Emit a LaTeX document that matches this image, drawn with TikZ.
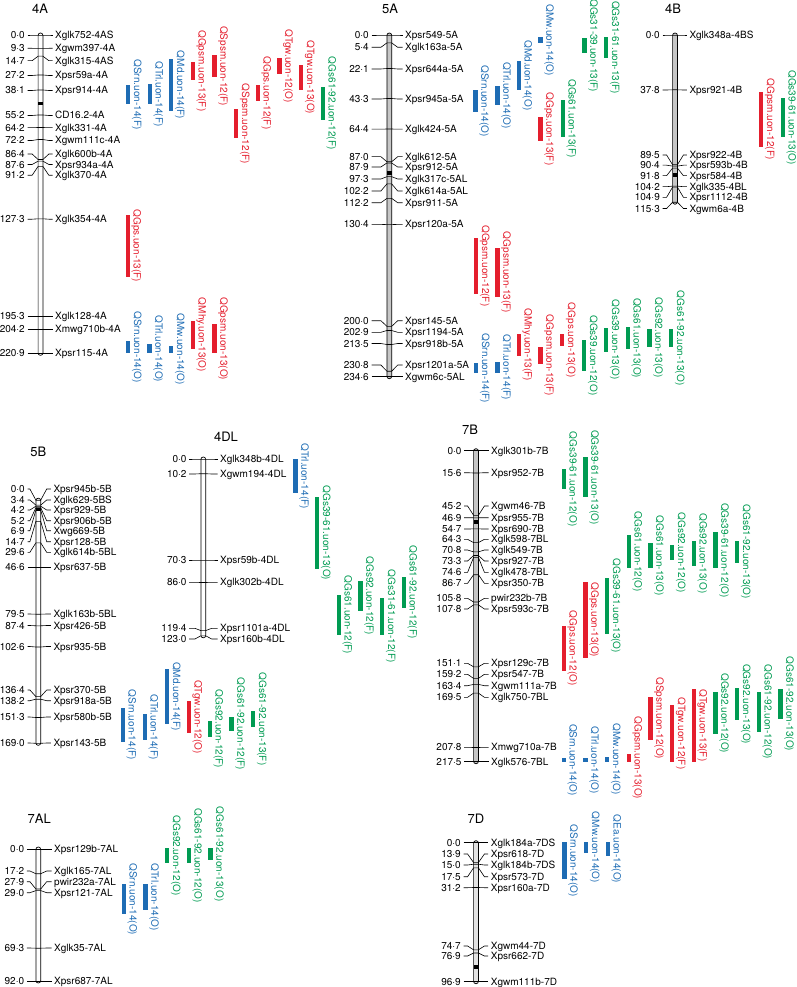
\documentclass[tikz,border=0pt]{standalone}
\usepackage{fontspec}
\setmainfont{TeX Gyre Heros}
\definecolor{qblue}{RGB}{30,108,180}
\definecolor{qred}{RGB}{228,30,45}
\definecolor{qgreen}{RGB}{0,155,82}
\tikzset{
  numlab/.style={anchor=east,inner xsep=2.5pt,inner ysep=1pt,text height=7pt,text depth=0pt,font=\fontsize{10}{12}\selectfont},
  mklab/.style={anchor=west,inner xsep=2.5pt,inner ysep=1pt,text height=7pt,text depth=0pt,font=\fontsize{10}{12}\selectfont},
  tick/.style={line width=0.6pt},
  chr/.style={draw=black,line width=0.7pt,rounded corners=2.3pt},
  qlab/.style={rotate=-90,anchor=south,inner sep=1pt,text height=7pt,text depth=2pt,font=\fontsize{10}{12}\selectfont},
  ttl/.style={font=\fontsize{13}{15}\selectfont,inner sep=0pt},
  cen/.style={fill=black}
}
\newcommand\hw{2.4}
\newcommand\dg{6}
\def\chrX{0}\def\numX{0}\def\labX{0}
\newcommand\setc[3]{\def\chrX{#1}\def\numX{#2}\def\labX{#3}}
\newcommand\mk[5]{%
  \node[numlab] (#1n) at (\numX,#3) {#4};
  \node[mklab] (#1m) at (\labX,#3) {#5};
  \draw[tick] (#1n.east) -- ({\chrX-\hw-\dg},#3) -- ({\chrX-\hw},#2) -- ({\chrX+\hw},#2) -- ({\chrX+\hw+\dg},#3) -- (#1m.west);
}
\newcommand\chrom[4]{\path[chr,fill=#4] ({#1-\hw},{#2-2}) rectangle ({#1+\hw},{#3+2});}
\newcommand\cent[2]{\fill[cen] ({\chrX-\hw},#1) rectangle ({\chrX+\hw},#2);}
\newcommand\Q[6]{%
  \fill[#2] (#3,#4) rectangle ({#3+4.3},#5);
  \node[qlab,text=#2] (#1) at ({#3+4.8},{(#4+#5)/2}) {#6};
}
\begin{document}
\begin{tikzpicture}[x=1pt,y=-1pt]
\useasboundingbox (0,0) rectangle (796,987);
% ---------------- titles
\node[ttl] (t4A) at (40,9) {4A};
\node[ttl] (t5A) at (390,9) {5A};
\node[ttl] (t4B) at (673,9) {4B};
\node[ttl] (t5B) at (38.3,451.7) {5B};
\node[ttl] (t4DL) at (226,437) {4DL};
\node[ttl] (t7B) at (470,430) {7B};
\node[ttl] (t7AL) at (39.3,818.3) {7AL};
\node[ttl] (t7D) at (476,818.3) {7D};
% ---------------- chromosome 4A
\chrom{40.5}{35}{353.3}{white}
\setc{40.5}{27.5}{52.5}
\mk{a1}{35}{35}{0·0}{Xglk752-4AS}
\mk{a2}{48.4}{48.3}{9·3}{Xgwm397-4A}
\mk{a3}{56.2}{60.7}{14·7}{Xglk315-4AS}
\mk{a4}{75}{75.5}{27·2}{Xpsr59a-4A}
\mk{a5}{90}{90.5}{38·1}{Xpsr914-4A}
\mk{a6}{115}{115.5}{55·2}{CD16.2-4A}
\mk{a7}{127.5}{127.7}{64·2}{Xglk331-4A}
\mk{a8}{139.5}{140.5}{72·2}{Xgwm111c-4A}
\mk{a9}{159.5}{154}{86·4}{Xglk600b-4A}
\mk{a10}{161.2}{164.5}{87·6}{Xpsr934a-4A}
\mk{a11}{166.4}{175.3}{91·2}{Xglk370-4A}
\mk{a12}{218.8}{219.2}{127·3}{Xglk354-4A}
\mk{a13}{316.2}{316.2}{195·3}{Xglk128-4A}
\mk{a14}{329.3}{329.3}{204·2}{Xmwg710b-4A}
\mk{a15}{353.3}{353.3}{220·9}{Xpsr115-4A}
\cent{102.5}{105.5}
\Q{qa1}{qblue}{126}{85}{104}{QSrn.uon-14(F)}
\Q{qa2}{qblue}{147.5}{84}{104}{QTrl.uon-14(F)}
\Q{qa3}{qblue}{169}{59.3}{111}{QMd.uon-14(F)}
\Q{qa4}{qred}{190.7}{61.7}{80}{QGpsm.uon-13(F)}
\Q{qa5}{qred}{212.3}{55}{77.3}{QSpsm.uon-12(F)}
\Q{qa6}{qred}{234}{109.3}{138.3}{QSpsm.uon-12(F)}
\Q{qa7}{qred}{255.7}{85}{101}{QGps.uon-12(F)}
\Q{qa8}{qred}{277.3}{58.3}{74}{QTgw.uon-12(O)}
\Q{qa9}{qred}{299}{65}{90}{QTgw.uon-13(O)}
\Q{qa10}{qgreen}{320.7}{86.7}{120}{QGs61-92.uon-12(F)}
\Q{qa11}{qred}{125.7}{215}{276.7}{QGps.uon-13(F)}
\Q{qa12}{qblue}{126}{341}{353.3}{QSrn.uon-14(O)}
\Q{qa13}{qblue}{147.3}{344.3}{353.3}{QTrl.uon-14(O)}
\Q{qa14}{qblue}{169}{346}{352.7}{QMw.uon-14(O)}
\Q{qa15}{qred}{190.7}{320.7}{349.3}{QMhy.uon-13(O)}
\Q{qa16}{qred}{212.3}{324.3}{353.3}{QGpsm.uon-13(O)}
% ---------------- chromosome 5A
\chrom{389.3}{35}{376.7}{gray!45}
\setc{389.3}{371.5}{402.5}
\mk{b1}{35}{35}{0·0}{Xpsr549-5A}
\mk{b2}{42.9}{47.3}{5·4}{Xglk163a-5A}
\mk{b3}{68.5}{69}{22·1}{Xpsr644a-5A}
\mk{b4}{98.5}{99}{43·3}{Xpsr945a-5A}
\mk{b5}{129}{129.2}{64·4}{Xglk424-5A}
\mk{b6}{161.7}{156.7}{87·0}{Xglk612-5A}
\mk{b7}{163}{167}{87·9}{Xpsr912-5A}
\mk{b8}{176.7}{179}{97·3}{Xglk317c-5AL}
\mk{b9}{183.9}{191}{102·2}{Xglk614a-5AL}
\mk{b10}{198.4}{202.7}{112·2}{Xpsr911-5A}
\mk{b11}{224.6}{224.4}{130·4}{Xpsr120a-5A}
\mk{b12}{326.3}{320.7}{200·0}{Xpsr145-5A}
\mk{b13}{330.5}{332.3}{202·9}{Xpsr1194-5A}
\mk{b14}{344.5}{343.5}{213·5}{Xpsr918b-5A}
\mk{b15}{371.2}{365}{230·8}{Xpsr1201a-5A}
\mk{b16}{376.7}{376.7}{234·6}{Xgwm6c-5AL}
\cent{171.2}{174.6}
\Q{qb1}{qblue}{473.3}{90}{112.3}{QSrn.uon-14(O)}
\Q{qb2}{qblue}{495.3}{86}{105}{QTrl.uon-14(O)}
\Q{qb3}{qblue}{516.7}{60.7}{90}{QMd.uon-14(O)}
\Q{qb4}{qblue}{538.3}{36.7}{43.3}{QMw.uon-14(O)}
\Q{qb5}{qred}{538.3}{117.3}{140.7}{QGps.uon-13(F)}
\Q{qb6}{qgreen}{560.7}{100}{137}{QGs61.uon-13(F)}
\Q{qb7}{qgreen}{582.3}{38.3}{53.3}{QGs31-39.uon-13(F)}
\Q{qb8}{qgreen}{604}{36.7}{58.3}{QGs31-61.uon-13(F)}
\Q{qb9}{qred}{474}{237.7}{294}{QGpsm.uon-12(F)}
\Q{qb10}{qred}{495.3}{247.7}{297.3}{QGpsm.uon-13(F)}
\Q{qb11}{qblue}{474}{363.3}{373.3}{QSrn.uon-14(F)}
\Q{qb12}{qblue}{495.3}{361.7}{372.7}{QTrl.uon-14(F)}
\Q{qb13}{qred}{516.7}{334.3}{355.7}{QMhy.uon-13(F)}
\Q{qb14}{qred}{538.3}{346.7}{364.3}{QGpsm.uon-13(F)}
\Q{qb15}{qred}{560}{334.3}{346}{QGps.uon-13(O)}
\Q{qb16}{qgreen}{582}{340}{370.7}{QGs39.uon-12(O)}
\Q{qb17}{qgreen}{604}{327.7}{351.7}{QGs39.uon-13(O)}
\Q{qb18}{qgreen}{625.7}{327.3}{349}{QGs61.uon-13(O)}
\Q{qb19}{qgreen}{647.3}{329}{346.7}{QGs92.uon-13(O)}
\Q{qb20}{qgreen}{669}{329}{347.3}{QGs61-92.uon-13(O)}
% ---------------- chromosome 4B
\chrom{675}{35}{202.2}{gray!45}
\setc{675}{662.5}{686.8}
\mk{c1}{35}{35}{0·0}{Xglk348a-4BS}
\mk{c2}{89.8}{90}{37·8}{Xpsr921-4B}
\mk{c3}{164.8}{155}{89·5}{Xpsr922-4B}
\mk{c4}{166.1}{165.2}{90·4}{Xpsr593b-4B}
\mk{c5}{168.1}{175.7}{91·8}{Xpsr584-4B}
\mk{c6}{186.1}{186.7}{104·2}{Xglk335-4BL}
\mk{c7}{187.1}{197.3}{104·9}{Xpsr1112-4B}
\mk{c8}{202.2}{208.5}{115·3}{Xgwm6a-4B}
\cent{173.5}{177}
\Q{qc1}{qred}{759}{91.7}{146.7}{QGpsm.uon-12(F)}
\Q{qc2}{qgreen}{780.7}{98.3}{136.7}{QGs39-61.uon-13(O)}
% ---------------- chromosome 5B
\chrom{38.3}{500.2}{743.3}{white}
\setc{38.3}{27.5}{50.8}
\mk{d1}{500.2}{489}{0·0}{Xpsr945b-5B}
\mk{d2}{505.1}{500}{3·4}{Xglk629-5BS}
\mk{d3}{506.2}{510}{4·2}{Xpsr929-5B}
\mk{d4}{507.7}{520.7}{5·2}{Xpsr906b-5B}
\mk{d5}{510.1}{530.7}{6·9}{Xwg669-5B}
\mk{d6}{521.4}{541.7}{14·7}{Xpsr128-5B}
\mk{d7}{542.8}{552.3}{29·6}{Xglk614b-5BL}
\mk{d8}{567.3}{567.3}{46·6}{Xpsr637-5B}
\mk{d9}{614.2}{614}{79·5}{Xglk163b-5BL}
\mk{d10}{625.8}{625.5}{87·4}{Xpsr426-5B}
\mk{d11}{647}{646.5}{102·6}{Xpsr935-5B}
\mk{d12}{696.6}{690}{136·4}{Xpsr370-5B}
\mk{d13}{699.2}{700.7}{138·2}{Xpsr918a-5B}
\mk{d14}{717.5}{717}{151·3}{Xpsr580b-5B}
\mk{d15}{743.3}{743}{169·0}{Xpsr143-5B}
\cent{507.5}{511}
\Q{qd1}{qblue}{120.7}{707.7}{742}{QSrn.uon-14(F)}
\Q{qd2}{qblue}{142.7}{714}{740}{QTrl.uon-14(F)}
\Q{qd3}{qblue}{165}{668.7}{724}{QMd.uon-14(F)}
\Q{qd4}{qred}{186.7}{700.7}{733}{QTgw.uon-12(O)}
\Q{qd5}{qgreen}{207.7}{721}{737}{QGs92.uon-12(F)}
\Q{qd6}{qgreen}{229.3}{716.7}{731}{QGs61-92.uon-12(F)}
\Q{qd7}{qgreen}{251}{711}{727}{QGs61-92.uon-13(F)}
% ---------------- chromosome 4DL
\chrom{203.3}{459}{635.8}{white}
\setc{203.3}{189.2}{217.5}
\mk{e1}{459}{459}{0·0}{Xglk348b-4DL}
\mk{e2}{473.7}{474}{10·2}{Xgwm194-4DL}
\mk{e3}{560}{560}{70·3}{Xpsr59b-4DL}
\mk{e4}{582.5}{582.3}{86·0}{Xglk302b-4DL}
\mk{e5}{630.6}{628.3}{119·4}{Xpsr1101a-4DL}
\mk{e6}{635.8}{639}{123·0}{Xpsr160b-4DL}
\Q{qe1}{qblue}{293.3}{459}{493.3}{QTrl.uon-14(F)}
\Q{qe2}{qgreen}{315}{496.7}{569.3}{QGs39-61.uon-13(O)}
\Q{qe3}{qgreen}{336.7}{595}{635}{QGs61.uon-12(F)}
\Q{qe4}{qgreen}{358.3}{581}{610.7}{QGs92.uon-12(F)}
\Q{qe5}{qgreen}{380}{597.7}{635}{QGs31-61.uon-12(F)}
\Q{qe6}{qgreen}{401.7}{576.7}{607.7}{QGs61-92.uon-12(F)}
% ---------------- chromosome 7B
\chrom{476}{450.7}{761.7}{gray!45}
\setc{476}{464.2}{488.5}
\mk{f1}{450.7}{450.7}{0·0}{Xglk301b-7B}
\mk{f2}{473}{472.7}{15·6}{Xpsr952-7B}
\mk{f3}{515.3}{506}{45·2}{Xgwm46-7B}
\mk{f4}{517.8}{517.7}{46·9}{Xpsr955-7B}
\mk{f5}{528.9}{529}{54·7}{Xpsr690-7B}
\mk{f6}{542.6}{539.3}{64·3}{Xglk598-7BL}
\mk{f7}{551.9}{550}{70·8}{Xglk549-7B}
\mk{f8}{555.5}{561}{73·3}{Xpsr927-7B}
\mk{f9}{557.4}{572.3}{74·6}{Xglk478-7BL}
\mk{f10}{574.7}{583.3}{86·7}{Xpsr350-7B}
\mk{f11}{602}{598.3}{105·8}{pwir232b-7B}
\mk{f12}{604.9}{609}{107·8}{Xpsr593c-7B}
\mk{f13}{666.8}{663.3}{151·1}{Xpsr129c-7B}
\mk{f14}{678.4}{674.3}{159·2}{Xpsr547-7B}
\mk{f15}{684.4}{685.7}{163·4}{Xgwm111a-7B}
\mk{f16}{693.1}{697.3}{169·5}{Xglk750-7BL}
\mk{f17}{747.5}{747.3}{207·8}{Xmwg710a-7B}
\mk{f18}{761.7}{761.7}{217·5}{Xglk576-7BL}
\cent{520}{523.5}
\Q{qf1}{qgreen}{561.7}{469}{489.3}{QGs39-61.uon-12(O)}
\Q{qf2}{qgreen}{583.3}{457.3}{497.3}{QGs39-61.uon-13(O)}
\Q{qf3}{qgreen}{626.7}{535}{568.3}{QGs61.uon-12(O)}
\Q{qf4}{qgreen}{648.3}{543.3}{568.3}{QGs61.uon-13(O)}
\Q{qf5}{qgreen}{670}{545}{560}{QGs92.uon-12(O)}
\Q{qf6}{qgreen}{691.7}{540.7}{566}{QGs92.uon-13(O)}
\Q{qf7}{qgreen}{713.3}{532.3}{568.3}{QGs39-61.uon-12(O)}
\Q{qf8}{qgreen}{735}{541}{562.7}{QGs61-92.uon-13(O)}
\Q{qf9}{qgreen}{605}{577.7}{634}{QGs39-61.uon-13(O)}
\Q{qf10}{qred}{583.3}{582.3}{657.7}{QGps.uon-13(O)}
\Q{qf11}{qred}{561.7}{625.7}{670.7}{QGps.uon-12(O)}
\Q{qf12}{qblue}{561.7}{758.3}{761.7}{QSrn.uon-14(O)}
\Q{qf13}{qblue}{583.3}{758.3}{761.7}{QTrl.uon-14(O)}
\Q{qf14}{qblue}{605}{756.7}{761.7}{QMw.uon-14(O)}
\Q{qf15}{qred}{626.7}{754}{761.7}{QGpsm.uon-13(O)}
\Q{qf16}{qred}{648.3}{696.7}{740}{QSpsm.uon-12(O)}
\Q{qf17}{qred}{670}{705}{761.7}{QTgw.uon-12(F)}
\Q{qf18}{qred}{691.7}{689}{761.7}{QTgw.uon-13(F)}
\Q{qf19}{qgreen}{713.3}{692.3}{734.3}{QGs92.uon-12(O)}
\Q{qf20}{qgreen}{735}{688.3}{720}{QGs92.uon-13(O)}
\Q{qf21}{qgreen}{756.7}{692.3}{731.7}{QGs61-92.uon-12(O)}
\Q{qf22}{qgreen}{778.3}{689}{719}{QGs61-92.uon-13(O)}
% ---------------- chromosome 7AL
\chrom{38.3}{849}{981}{white}
\setc{38.3}{26.8}{51.5}
\mk{g1}{849}{849}{0·0}{Xpsr129b-7AL}
\mk{g2}{873.7}{871}{17·2}{Xglk165-7AL}
\mk{g3}{889}{881.7}{27·9}{pwir232a-7AL}
\mk{g4}{890.6}{892.7}{29·0}{Xpsr121-7AL}
\mk{g5}{948.2}{948}{69·3}{Xglk35-7AL}
\mk{g6}{981}{981}{92·0}{Xpsr687-7AL}
\Q{qg1}{qblue}{121.7}{884.3}{914.3}{QSrn.uon-14(O)}
\Q{qg2}{qblue}{143.3}{884.3}{910}{QTrl.uon-14(O)}
\Q{qg3}{qgreen}{165}{848.3}{862.7}{QGs92.uon-12(O)}
\Q{qg4}{qgreen}{186.7}{848.3}{862.7}{QGs61-92.uon-12(O)}
\Q{qg5}{qgreen}{208.3}{848.3}{860}{QGs61-92.uon-13(O)}
% ---------------- chromosome 7D
\chrom{476}{842.7}{981.7}{gray!22}
\setc{476}{463.5}{488.2}
\mk{h1}{842.7}{842.7}{0·0}{Xglk184a-7DS}
\mk{h2}{862.6}{854}{13·9}{Xpsr618-7D}
\mk{h3}{864.2}{865}{15·0}{Xglk184b-7DS}
\mk{h4}{867.8}{876.7}{17·5}{Xpsr573-7D}
\mk{h5}{887.5}{887.7}{31·2}{Xpsr160a-7D}
\mk{h6}{949.8}{946}{74·7}{Xgwm44-7D}
\mk{h7}{953}{956}{76·9}{Xpsr662-7D}
\mk{h8}{981.7}{981.7}{96·9}{Xgwm111b-7D}
\cent{965}{968.5}
\Q{qh1}{qblue}{562.3}{842.3}{879.3}{QSrn.uon-14(O)}
\Q{qh2}{qblue}{584}{842.3}{852.7}{QMw.uon-14(O)}
\Q{qh3}{qblue}{605.7}{842.3}{855.7}{QEa.uon-14(O)}
\end{tikzpicture}
\end{document}
